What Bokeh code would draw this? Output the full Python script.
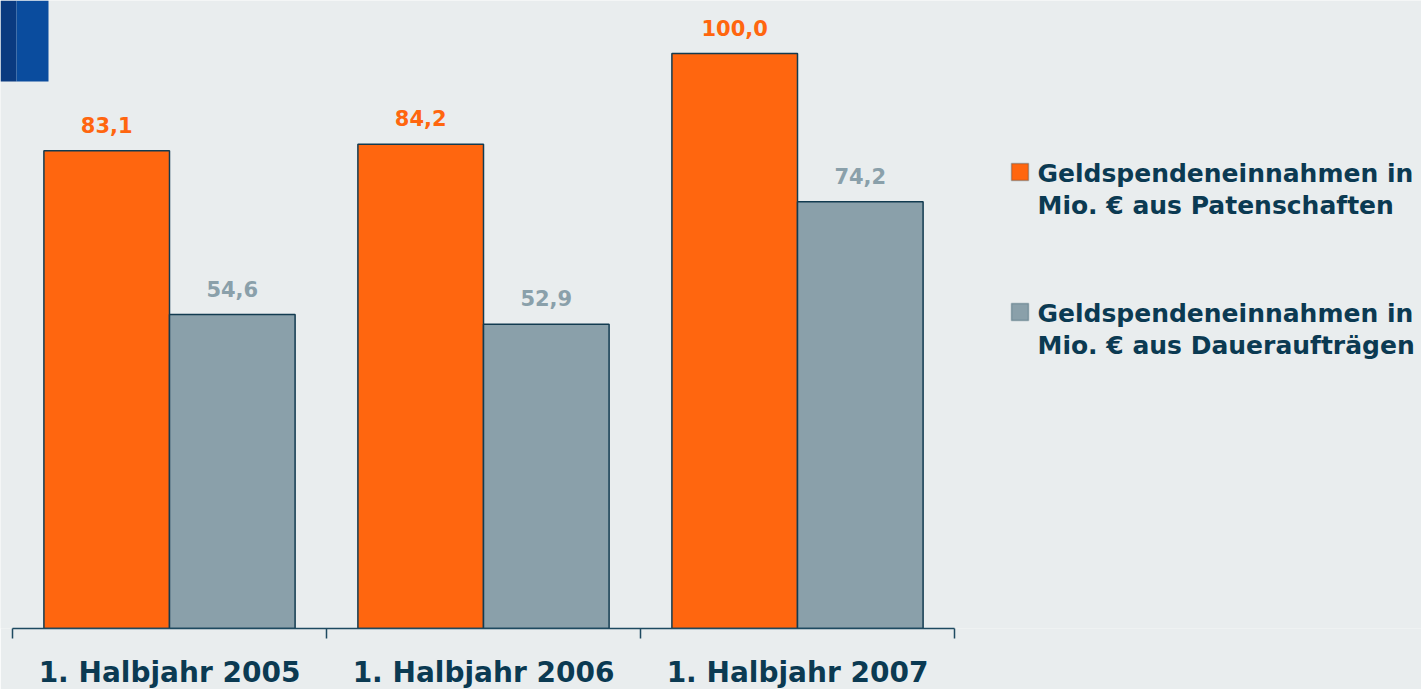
from bokeh.plotting import figure
from bokeh.models import ColumnDataSource, Range1d, FixedTicker, BoxAnnotation, Label
from bokeh.core.properties import value
from bokeh.embed import file_html
from bokeh.resources import INLINE

categories = ["1. Halbjahr 2005", "1. Halbjahr 2006", "1. Halbjahr 2007"]
patenschaften = [83.1, 84.2, 100.0]
dauerauftraege = [54.6, 52.9, 74.2]
series_names = ["Geldspendeneinnahmen in\nMio. € aus Patenschaften",
                "Geldspendeneinnahmen in\nMio. € aus Daueraufträgen"]

ORANGE = "#FF660F"
GRAY = "#8AA0AA"
DARK = "#0B3A52"
OUTLINE = "#123B50"
BG = "#E9EDEE"
FONT = value("DejaVu Sans")

W, H = 1421, 689
X0 = 12            # pixel of category axis start
PX_CAT = 314.0     # pixels per category
Y0 = 628           # pixel of value 0
PX_VAL = 5.75      # pixels per value unit

centers = [i + 0.5 for i in range(len(categories))]

def fmt(v):
    return f"{v:.1f}".replace(".", ",")

def dx(px):
    return (px - X0) / PX_CAT

def dy(py):
    return (Y0 - py) / PX_VAL

src_o = ColumnDataSource(dict(x=[c - 0.2 for c in centers], top=patenschaften,
                              label=[fmt(v) for v in patenschaften]))
src_g = ColumnDataSource(dict(x=[c + 0.2 for c in centers], top=dauerauftraege,
                              label=[fmt(v) for v in dauerauftraege]))

p = figure(frame_width=W, frame_height=Y0, output_backend="svg", toolbar_location=None,
           x_range=Range1d(dx(0), dx(W)), y_range=Range1d(0, dy(0)),
           min_border_left=0, min_border_right=0, min_border_top=0, min_border_bottom=H - Y0)
p.background_fill_color = BG
p.border_fill_color = BG
p.outline_line_color = None
p.grid.visible = False
p.yaxis.visible = False

r_o = p.vbar(x="x", top="top", width=0.4, bottom=0, source=src_o,
             fill_color=ORANGE, line_color=OUTLINE, line_width=1.5)
r_g = p.vbar(x="x", top="top", width=0.4, bottom=0, source=src_g,
             fill_color=GRAY, line_color=OUTLINE, line_width=1.5)

p.text(x="x", y="top", text="label", source=src_o, text_align="center",
       text_baseline="alphabetic", y_offset=-26, text_font=FONT, text_font_style="bold",
       text_font_size="21px", text_color=ORANGE)
p.text(x="x", y="top", text="label", source=src_g, text_align="center",
       text_baseline="alphabetic", y_offset=-26, text_font=FONT, text_font_style="bold",
       text_font_size="21px", text_color=GRAY)

ax = p.xaxis[0]
ax.ticker = FixedTicker(ticks=centers, minor_ticks=list(range(len(categories) + 1)))
ax.major_label_overrides = {c: cat for c, cat in zip(centers, categories)}
ax.bounds = (0, len(categories))
ax.axis_line_color = "#1E4A60"
ax.axis_line_width = 1.5
ax.major_tick_line_color = None
ax.major_tick_out = 0
ax.major_tick_in = 0
ax.minor_tick_out = 10
ax.minor_tick_in = 0
ax.minor_tick_line_color = "#1E4A60"
ax.minor_tick_line_width = 1.5
ax.major_label_standoff = 17
ax.major_label_text_font = "DejaVu Sans"
ax.major_label_text_font_style = "bold"
ax.major_label_text_font_size = "28px"
ax.major_label_text_color = DARK

# decorative blue photo corner
p.add_layout(BoxAnnotation(left=dx(0), right=dx(16), top=dy(0), bottom=dy(81),
                           fill_color="#0A3A80", fill_alpha=1.0, line_color=None))
p.add_layout(BoxAnnotation(left=dx(16), right=dx(48), top=dy(0), bottom=dy(81),
                           fill_color="#0A4C9E", fill_alpha=1.0, line_color=None))

# legend: swatches and labels
legend_colors = [ORANGE, GRAY]
legend_tops = [163, 303]
for name, col, top in zip(series_names, legend_colors, legend_tops):
    p.add_layout(BoxAnnotation(left=dx(1011), right=dx(1028), top=dy(top), bottom=dy(top + 17),
                               fill_color=col, fill_alpha=1.0, line_color=OUTLINE, line_width=1.5))
    p.add_layout(Label(x=dx(1037), y=dy(top - 5), text=name, text_align="left",
                       text_baseline="top", text_font="DejaVu Sans", text_font_style="bold",
                       text_font_size="25px", text_color=DARK, text_line_height=1.12))

open("out.html", "w").write(file_html(p, INLINE))
